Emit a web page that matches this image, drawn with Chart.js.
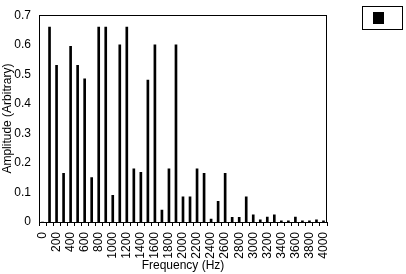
<!DOCTYPE html>
<html>
<head>
<meta charset="utf-8">
<script src="https://cdn.jsdelivr.net/npm/chart.js@4"></script>
<style>
    html, body { margin: 0; padding: 0; background: #ffffff; }
    #wrap { width: 406px; height: 274px; position: relative; }
</style>
</head>
<body>
<div id="wrap"><canvas id="spectrumChart" width="406" height="274"></canvas></div>
<script>
const frequencies = [
    0, 100, 200, 300, 400, 500, 600, 700, 800, 900,
    1000, 1100, 1200, 1300, 1400, 1500, 1600, 1700, 1800, 1900,
    2000, 2100, 2200, 2300, 2400, 2500, 2600, 2700, 2800, 2900,
    3000, 3100, 3200, 3300, 3400, 3500, 3600, 3700, 3800, 3900, 4000,
];
const amplitudes = [
    0, 0.66, 0.53, 0.165, 0.595, 0.53, 0.485, 0.15, 0.66, 0.66,
    0.09, 0.60, 0.66, 0.18, 0.168, 0.48, 0.60, 0.04, 0.18, 0.60,
    0.085, 0.085, 0.18, 0.165, 0.01, 0.07, 0.165, 0.016, 0.016, 0.085,
    0.024, 0.007, 0.017, 0.024, 0.004, 0.004, 0.017, 0.004, 0.004, 0.007, 0.004,
];
const xTickLabels = ["0", "200", "400", "600", "800", "1000", "1200", "1400", "1600", "1800", "2000",
    "2200", "2400", "2600", "2800", "3000", "3200", "3400", "3600", "3800", "4000"];
const yTicks = [0, 0.1, 0.2, 0.3, 0.4, 0.5, 0.6, 0.7];

const fontFamily = "'Liberation Sans', Arial, sans-serif";

// plot frame + empty legend box like the original
const framePlugin = {
    id: "frame",
    afterDraw(chart) {
        const { ctx, chartArea } = chart;
        ctx.save();
        ctx.strokeStyle = "#000000";
        ctx.lineWidth = 1;
        ctx.strokeRect(
            Math.round(chartArea.left) + 0.5,
            Math.round(chartArea.top) + 0.5,
            Math.round(chartArea.right - chartArea.left) - 1,
            Math.round(chartArea.bottom - chartArea.top)
        );
        ctx.strokeRect(362.5, 6.5, 40, 23);
        ctx.fillStyle = "#000000";
        ctx.fillRect(373, 12, 11, 12);
        ctx.restore();
    },
};

window.addEventListener("DOMContentLoaded", () => {
    const canvas = document.getElementById("spectrumChart");
    new Chart(canvas, {
        type: "bar",
        data: {
            labels: frequencies.map(String),
            datasets: [
                {
                    data: amplitudes,
                    backgroundColor: "#000000",
                    borderWidth: 0,
                    barThickness: 2,
                },
            ],
        },
        options: {
            responsive: false,
            animation: false,
            events: [],
            layout: { padding: { top: 6, right: 79, bottom: 0, left: 0 } },
            plugins: {
                legend: { display: false },
                tooltip: { enabled: false },
            },
            scales: {
                x: {
                    offset: true,
                    grid: {
                        display: true,
                        drawOnChartArea: false,
                        drawTicks: true,
                        tickLength: 4,
                        color: "#000000",
                        offset: true,
                    },
                    border: { display: true, color: "#000000", width: 1 },
                    ticks: {
                        autoSkip: false,
                        minRotation: 90,
                        maxRotation: 90,
                        padding: 6,
                        color: "#000000",
                        font: { family: fontFamily, size: 12 },
                        callback(value, index) {
                            return index % 2 === 0 ? xTickLabels[index / 2] : "";
                        },
                    },
                    title: {
                        display: true,
                        text: "Frequency (Hz)",
                        color: "#000000",
                        font: { family: fontFamily, size: 12 },
                        padding: { top: 0, bottom: 1 },
                    },
                    afterFit(scale) {
                        scale.height = 52;
                    },
                },
                y: {
                    min: 0,
                    max: 0.7,
                    grid: { display: false, drawTicks: false },
                    border: { display: true, color: "#000000", width: 1 },
                    afterBuildTicks(scale) {
                        scale.ticks = yTicks.map((v) => ({ value: v }));
                    },
                    ticks: {
                        padding: 8,
                        color: "#000000",
                        font: { family: fontFamily, size: 12 },
                        callback(value) {
                            return String(Math.round(value * 10) / 10);
                        },
                    },
                    title: {
                        display: true,
                        text: "Amplitude (Arbitrary)",
                        color: "#000000",
                        font: { family: fontFamily, size: 12 },
                        padding: { top: 0, bottom: 0 },
                    },
                    afterFit(scale) {
                        scale.width = 39;
                    },
                },
            },
        },
        plugins: [framePlugin],
    });
});
</script>
</body>
</html>
